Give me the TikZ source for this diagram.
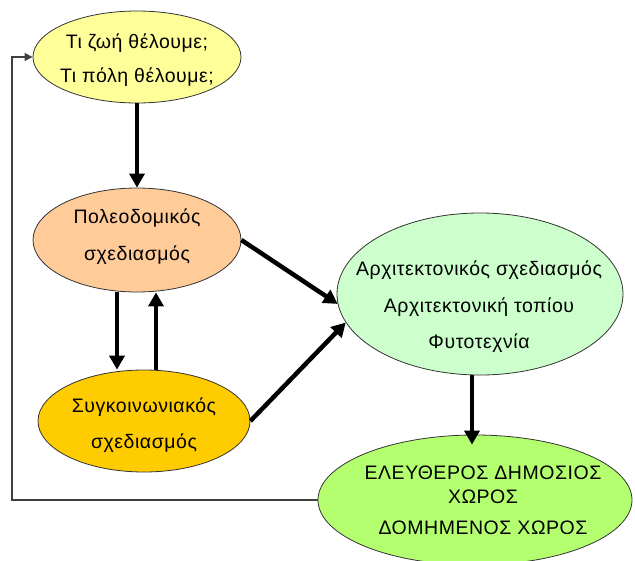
\documentclass[tikz,border=0pt]{standalone}
\usepackage{fontspec}
\setmainfont[LetterSpace=2.8]{Liberation Sans}
\usetikzlibrary{arrows.meta,shapes.geometric}
\definecolor{cyel}{HTML}{FFFF99}
\definecolor{corange}{HTML}{FFCC99}
\definecolor{cgold}{HTML}{FFCC00}
\definecolor{cmint}{HTML}{CCFFCC}
\definecolor{clime}{HTML}{B4FF70}
\tikzset{
  bubble/.style={ellipse, draw=black!80, line width=0.8pt, inner sep=0pt},
  txt/.style={align=center, font=\fontsize{19.5}{36}\selectfont, inner sep=0pt},
  bigarrow/.style={line width=4.5pt, -{Triangle[length=14pt,width=15pt]}},
  fbarrow/.style={line width=1.3pt, draw=black!75, -{Triangle[length=8pt,width=8pt]}}
}
\begin{document}
\begin{tikzpicture}[x=1pt,y=-1pt]
\useasboundingbox (0,0) rectangle (635,560);
% ellipses
\node[bubble, fill=cyel, minimum width=208pt, minimum height=92pt] (yel) at (137,57) {};
\node[bubble, fill=corange, minimum width=208pt, minimum height=104pt] (pol) at (137,240) {};
\node[bubble, fill=cgold, minimum width=212pt, minimum height=102pt] (syg) at (144,421) {};
\node[bubble, fill=cmint, minimum width=286pt, minimum height=162pt] (arch) at (480,294) {};
\node[bubble, fill=clime, minimum width=314pt, minimum height=130pt] (free) at (475,500) {};
% texts
\node[txt, font=\fontsize{19.5}{34}\selectfont] (yelt) at (137,60) {Τι ζωή θέλουμε;\\Τι πόλη θέλουμε;};
\node[txt, font=\fontsize{19.5}{37}\selectfont] (polt) at (137,237) {Πολεοδομικός\\σχεδιασμός};
\node[txt] (sygt) at (144,425) {Συγκοινωνιακός\\σχεδιασμός};
\node[txt, font=\fontsize{19.5}{36.5}\selectfont] (archt) at (479,307) {Αρχιτεκτονικός σχεδιασμός\\Αρχιτεκτονική τοπίου\\Φυτοτεχνία};
\node[txt, font=\fontsize{19.5}{31}\selectfont] (freet) at (483,500) {ΕΛΕΥΘΕΡΟΣ ΔΗΜΟΣΙΟΣ\\[-7pt]ΧΩΡΟΣ\\ΔΟΜΗΜΕΝΟΣ ΧΩΡΟΣ};
% helper coordinates
\coordinate (dnx) at (117,0);
\coordinate (upx) at (156,0);
\coordinate (vx) at (472,0);
\coordinate (fbx) at (12,0);
% connectors
\draw[bigarrow] (yel.south) -- (pol.north);
\draw[bigarrow] (dnx |- pol.south) -- (dnx |- syg.north);
\draw[bigarrow] (upx |- syg.north) -- (upx |- pol.south);
\draw[bigarrow] (pol.east) -- (arch.184);
\draw[bigarrow] (syg.east) -- (arch.192);
\draw[bigarrow] (vx |- arch.south) -- ([yshift=-10pt]vx |- free.north);
\draw[fbarrow] (free.west) -- (fbx |- free.west) -- (fbx |- yel.west) -- (yel.west);
\end{tikzpicture}
\end{document}
